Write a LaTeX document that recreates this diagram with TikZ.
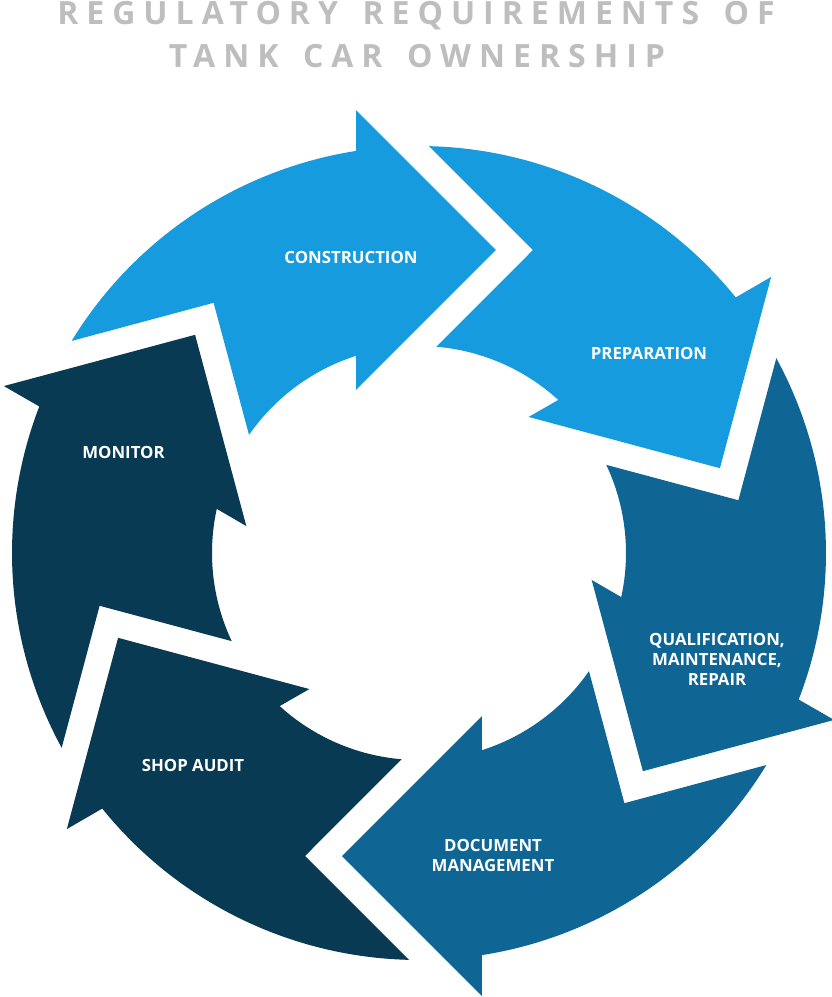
\documentclass[tikz,border=0pt]{standalone}
\usepackage{fontspec}
\setmainfont{Open Sans}
\newfontfamily\titlefont[LetterSpace=25,WordSpace=1.5]{Open Sans}
\usetikzlibrary{positioning}
\definecolor{lightblue}{HTML}{169BDE}
\definecolor{midblue}{HTML}{0F6694}
\definecolor{darkblue}{HTML}{083A54}
\definecolor{titlegray}{HTML}{BEBEBE}

\begin{document}
\begin{tikzpicture}[x=1pt,y=1pt,every node/.style={font=\fontsize{16.8}{20}\selectfont\bfseries}]
    \tikzstyle{lbl}=[text=white,align=center,inner sep=0pt];
    \tikzstyle{ttl}=[text=titlegray,anchor=base,inner sep=0pt,font=\titlefont\fontsize{32}{38}\selectfont\bfseries];
    \useasboundingbox (-419,-444) rectangle (412,553);
    % six arrows round the ring, clockwise
    \foreach \k/\col in {0/lightblue,1/lightblue,2/midblue,3/midblue,4/darkblue,5/darkblue}
      \fill[\col,rotate=-60*\k] (148.6:407) arc[start angle=148.6,end angle=98.9,radius=407]
        -- (-63,443) -- (77,303) -- (-63,163)
        -- (107.7:207) arc[start angle=107.7,end angle=145.2,radius=207]
        -- (-205.4,250.2) -- cycle;
    \node[ttl] (title1) at (-3,528) {REGULATORY REQUIREMENTS OF};
    \node[ttl] (title2) at (-2,485) {TANK CAR OWNERSHIP};
    \node[lbl] (constr) at (-68,296)   {CONSTRUCTION};
    \node[lbl] (prep)   at (230,200)   {PREPARATION};
    \node[lbl] (qmr)    at (298,-106)  {QUALIFICATION,\\MAINTENANCE,\\REPAIR};
    \node[lbl] (docm)   at (74,-302)   {DOCUMENT\\MANAGEMENT};
    \node[lbl] (audit)  at (-226,-212) {SHOP AUDIT};
    \node[lbl] (mon)    at (-295.5,101) {MONITOR};
  \end{tikzpicture}
\end{document}
